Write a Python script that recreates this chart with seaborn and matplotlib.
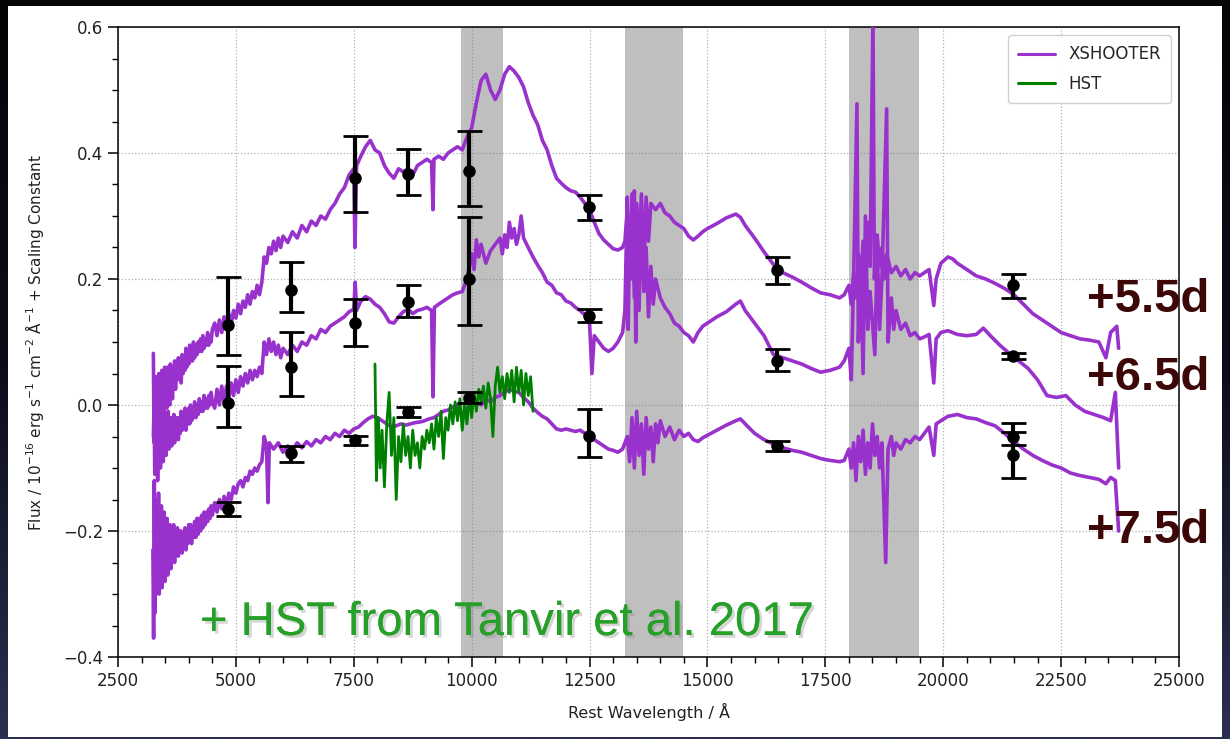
import numpy as np
import matplotlib
matplotlib.use("Agg")
import matplotlib.pyplot as plt
import matplotlib.patheffects as pe
from matplotlib.colors import LinearSegmentedColormap
from matplotlib.patches import Rectangle
from matplotlib.ticker import MultipleLocator, FuncFormatter
import seaborn as sns

# ---------------- X-shooter spectra, three epochs (flux + scaling constant) ----------------
# noisy blue ends, sampled densely
wave_55_blue = [3250, 3265, 3280, 3295, 3310, 3325, 3340, 3355, 3370, 3385, 3400, 3415, 3430, 3445,
                3460, 3475, 3490, 3505, 3520, 3535, 3550, 3565, 3580, 3595, 3610, 3625, 3640, 3655,
                3670, 3685, 3700, 3720, 3740, 3760, 3780, 3800, 3820, 3840, 3860, 3880, 3900, 3920,
                3940, 3960, 3980, 4000, 4020, 4040, 4060, 4080, 4100, 4125, 4150, 4175, 4200, 4225,
                4250, 4275, 4300, 4325, 4350, 4375, 4400, 4425, 4450, 4475, 4500]
flux_55_blue = [0.082, -0.06, 0.02, -0.04, 0.045, -0.02, 0.03, -0.07, 0.05, 0.0, 0.04, -0.03, 0.055, 0.01,
                0.035, -0.02, 0.06, 0.02, 0.045, -0.005, 0.06, 0.015, 0.04, 0.0, 0.065, 0.03, 0.05, 0.01,
                0.06, 0.035, 0.07, 0.025, 0.06, 0.04, 0.075, 0.045, 0.065, 0.035, 0.08, 0.05, 0.07, 0.055,
                0.09, 0.06, 0.08, 0.065, 0.095, 0.07, 0.085, 0.07, 0.10, 0.075, 0.095, 0.08, 0.10, 0.085,
                0.105, 0.085, 0.11, 0.09, 0.105, 0.095, 0.115, 0.095, 0.11, 0.10, 0.12]
wave_55_red = [4550, 4600, 4650, 4700, 4750, 4800, 4850, 4900, 4950, 5000, 5050, 5100,
               5150, 5200, 5250, 5300, 5350, 5400, 5450, 5500, 5550, 5600, 5650, 5700, 5750, 5800,
               5850, 5900, 5950, 6000, 6100, 6200, 6300, 6400, 6500, 6600, 6700, 6800, 6900, 7000,
               7100, 7200, 7300, 7400, 7500, 7525, 7560, 7650, 7750, 7850, 7950, 8050, 8150, 8250,
               8350, 8450, 8550, 8650, 8750, 8850, 8950, 9050, 9150, 9180, 9200, 9300, 9400, 9500,
               9600, 9700, 9800, 9900, 10000, 10100, 10200, 10300, 10400, 10500, 10600, 10700, 10800,
               10900, 11000, 11100, 11200, 11300, 11400, 11500, 11600, 11700, 11800, 11900, 12000,
               12100, 12200, 12300, 12400, 12500, 12600, 12700, 12800, 12900, 13000, 13100, 13200,
               13250, 13300, 13350, 13400, 13450, 13500, 13550, 13600, 13650, 13700, 13750, 13800,
               13900, 14000, 14100, 14200, 14300, 14400, 14500, 14600, 14700, 14800, 14900, 15000,
               15200, 15400, 15600, 15700, 15800, 16000, 16200, 16400, 16600, 16800, 17000, 17200,
               17400, 17600, 17800, 17900, 18000, 18050, 18100, 18150, 18200, 18250, 18300, 18350,
               18400, 18450, 18510, 18540, 18600, 18650, 18700, 18750, 18800, 18900, 19000, 19100,
               19200, 19300, 19400, 19500, 19600, 19700, 19800, 19850, 19950, 20100, 20200, 20300,
               20500, 20700, 20900, 21100, 21300, 21500, 21700, 21900, 22100, 22300, 22500, 22700,
               22900, 23100, 23300, 23450, 23550, 23680, 23720]
flux_55_red = [0.13, 0.11, 0.135, 0.115, 0.14, 0.12, 0.145, 0.128, 0.15, 0.138, 0.16, 0.145,
               0.165, 0.155, 0.175, 0.16, 0.18, 0.17, 0.19, 0.175, 0.195, 0.235, 0.225, 0.25, 0.24, 0.26,
               0.245, 0.265, 0.25, 0.268, 0.258, 0.275, 0.265, 0.285, 0.275, 0.292, 0.285, 0.30, 0.295, 0.31,
               0.32, 0.335, 0.345, 0.365, 0.375, 0.25, 0.38, 0.395, 0.41, 0.42, 0.405, 0.40, 0.38, 0.368,
               0.36, 0.375, 0.37, 0.375, 0.365, 0.38, 0.385, 0.39, 0.385, 0.31, 0.39, 0.395, 0.39, 0.40,
               0.405, 0.41, 0.405, 0.425, 0.44, 0.48, 0.515, 0.525, 0.50, 0.485, 0.50, 0.525, 0.537,
               0.53, 0.52, 0.505, 0.48, 0.46, 0.445, 0.42, 0.405, 0.38, 0.36, 0.352, 0.345,
               0.34, 0.338, 0.33, 0.32, 0.31, 0.29, 0.272, 0.262, 0.255, 0.248, 0.246, 0.25,
               0.26, 0.31, 0.22, 0.335, 0.17, 0.32, 0.24, 0.335, 0.20, 0.33, 0.26, 0.32,
               0.31, 0.32, 0.305, 0.30, 0.29, 0.285, 0.28, 0.268, 0.262, 0.268, 0.275, 0.28,
               0.288, 0.297, 0.303, 0.298, 0.285, 0.265, 0.243, 0.223, 0.21, 0.203, 0.195, 0.186,
               0.178, 0.175, 0.17, 0.175, 0.19, 0.16, 0.21, 0.17, 0.24, 0.19, 0.26, 0.20,
               0.29, 0.22, 0.62, 0.20, 0.27, 0.22, 0.25, 0.20, 0.24, 0.21, 0.22, 0.205,
               0.215, 0.20, 0.21, 0.205, 0.21, 0.215, 0.158, 0.20, 0.225, 0.235, 0.232, 0.225,
               0.215, 0.205, 0.20, 0.193, 0.185, 0.175, 0.16, 0.145, 0.135, 0.125, 0.115, 0.11,
               0.105, 0.103, 0.10, 0.075, 0.115, 0.125, 0.09]

wave_65_blue = [3250, 3265, 3280, 3295, 3310, 3325, 3340, 3355, 3370, 3385, 3400, 3415, 3430, 3445,
                3460, 3475, 3490, 3505, 3520, 3535, 3550, 3565, 3580, 3595, 3610, 3625, 3640, 3655,
                3670, 3685, 3700, 3720, 3740, 3760, 3780, 3800, 3820, 3840, 3860, 3880, 3900, 3920,
                3940, 3960, 3980, 4000, 4020, 4040, 4060, 4080, 4100, 4125, 4150, 4175, 4200, 4225,
                4250, 4275, 4300, 4325, 4350, 4375, 4400, 4425, 4450, 4475, 4500]
flux_65_blue = [-0.05, 0.0, -0.11, -0.03, -0.09, -0.01, -0.12, -0.04, -0.08, -0.02, -0.10, -0.03, -0.07, -0.015,
                -0.09, -0.04, -0.06, -0.02, -0.08, -0.03, -0.065, -0.01, -0.07, -0.035, -0.06, -0.02, -0.065, -0.03,
                -0.055, -0.015, -0.06, -0.025, -0.05, -0.02, -0.055, -0.02, -0.045, -0.01, -0.04, -0.02, -0.035, -0.005,
                -0.04, -0.01, -0.03, -0.005, -0.03, 0.0, -0.025, -0.005, -0.02, 0.005, -0.02, 0.0, -0.015, 0.01,
                -0.01, 0.005, -0.01, 0.015, -0.005, 0.01, -0.005, 0.015, 0.0, 0.02, 0.005]
wave_65_red = [4550, 4600, 4650, 4700, 4750, 4800, 4850, 4900, 4950, 5000, 5050, 5100,
               5150, 5200, 5250, 5300, 5350, 5400, 5450, 5500, 5550, 5600, 5650, 5700, 5750, 5800,
               5850, 5900, 5950, 6000, 6100, 6200, 6300, 6400, 6500, 6600, 6700, 6800, 6900, 7000,
               7100, 7200, 7300, 7400, 7500, 7530, 7560, 7650, 7750, 7850, 7950, 8050, 8150, 8250,
               8350, 8450, 8550, 8650, 8750, 8850, 8950, 9050, 9150, 9180, 9210, 9300, 9400, 9500,
               9600, 9700, 9800, 9900, 10000, 10050, 10100, 10150, 10200, 10300, 10400, 10500, 10600,
               10650, 10700, 10750, 10800, 10850, 10900, 10950, 11000, 11050, 11100, 11200, 11300,
               11400, 11500, 11600, 11700, 11800, 11900, 12000, 12100, 12200, 12300, 12400, 12500,
               12550, 12600, 12700, 12800, 12900, 13000, 13100, 13200, 13250, 13300, 13320, 13350,
               13400, 13450, 13480, 13500, 13550, 13600, 13650, 13700, 13750, 13800, 13850, 13900,
               14000, 14100, 14200, 14300, 14400, 14500, 14600, 14700, 14800, 14900, 15000, 15200,
               15400, 15600, 15700, 15800, 15900, 16000, 16200, 16400, 16600, 16800, 17000, 17200,
               17400, 17600, 17800, 17900, 18000, 18050, 18100, 18170, 18200, 18250, 18300, 18350,
               18400, 18450, 18550, 18600, 18650, 18700, 18800, 18830, 18900, 18950, 19000, 19100,
               19200, 19300, 19400, 19500, 19600, 19700, 19800, 19850, 19950, 20100, 20300, 20500,
               20700, 20850, 21000, 21200, 21400, 21600, 21800, 22000, 22200, 22400, 22600, 22800,
               23000, 23200, 23400, 23550, 23650, 23720]
flux_65_red = [-0.005, 0.025, 0.0, 0.03, 0.005, 0.03, 0.01, 0.035, 0.015, 0.04, 0.02, 0.045,
               0.03, 0.05, 0.035, 0.055, 0.04, 0.055, 0.045, 0.06, 0.05, 0.10, 0.08, 0.105, 0.085, 0.10,
               0.08, 0.095, 0.075, 0.09, 0.08, 0.095, 0.085, 0.10, 0.095, 0.11, 0.105, 0.12, 0.115, 0.125,
               0.13, 0.135, 0.14, 0.148, 0.152, 0.195, 0.15, 0.165, 0.172, 0.168, 0.16, 0.155, 0.145, 0.132,
               0.13, 0.14, 0.148, 0.152, 0.145, 0.15, 0.152, 0.155, 0.15, 0.013, 0.155, 0.16, 0.165, 0.17,
               0.175, 0.178, 0.18, 0.20, 0.24, 0.215, 0.262, 0.235, 0.255, 0.225, 0.245, 0.255, 0.265,
               0.24, 0.27, 0.25, 0.29, 0.265, 0.28, 0.255, 0.27, 0.30, 0.265, 0.25, 0.235,
               0.222, 0.21, 0.195, 0.19, 0.178, 0.175, 0.165, 0.162, 0.155, 0.15, 0.143, 0.13,
               0.05, 0.11, 0.10, 0.09, 0.085, 0.09, 0.10, 0.115, 0.15, 0.33, 0.12, 0.29,
               0.20, 0.34, 0.10, 0.30, 0.15, 0.32, 0.18, 0.25, 0.14, 0.22, 0.16, 0.20,
               0.17, 0.155, 0.145, 0.13, 0.125, 0.115, 0.11, 0.10, 0.115, 0.125, 0.13, 0.14,
               0.148, 0.16, 0.165, 0.15, 0.14, 0.13, 0.11, 0.08, 0.075, 0.07, 0.065, 0.058,
               0.052, 0.055, 0.06, 0.07, 0.09, 0.04, 0.20, 0.478, 0.10, 0.22, 0.05, 0.30,
               0.12, 0.18, 0.08, 0.25, 0.12, 0.20, 0.47, 0.10, 0.17, 0.12, 0.15, 0.12,
               0.13, 0.11, 0.115, 0.105, 0.108, 0.112, 0.035, 0.105, 0.115, 0.118, 0.112, 0.11,
               0.112, 0.122, 0.11, 0.095, 0.082, 0.07, 0.058, 0.04, 0.015, 0.012, 0.015, 0.0,
               -0.01, -0.015, -0.02, -0.025, 0.02, -0.10]

wave_75_blue = [3240, 3255, 3270, 3285, 3300, 3315, 3330, 3345, 3360, 3375, 3390, 3405, 3420, 3435,
                3450, 3465, 3480, 3495, 3510, 3525, 3540, 3555, 3570, 3585, 3600, 3620, 3640, 3660,
                3680, 3700, 3720, 3740, 3760, 3780, 3800, 3820, 3840, 3860, 3880, 3900, 3920, 3940,
                3960, 3980, 4000, 4020, 4040, 4060, 4080, 4100, 4125, 4150, 4175, 4200, 4225, 4250,
                4275, 4300, 4325, 4350, 4375, 4400, 4425, 4450, 4475, 4500]
flux_75_blue = [-0.23, -0.37, -0.12, -0.33, -0.15, -0.30, -0.17, -0.28, -0.14, -0.30, -0.18, -0.27, -0.16, -0.29,
                -0.19, -0.26, -0.17, -0.28, -0.20, -0.25, -0.18, -0.27, -0.20, -0.25, -0.19, -0.26, -0.20, -0.24,
                -0.19, -0.25, -0.20, -0.235, -0.195, -0.24, -0.20, -0.23, -0.20, -0.235, -0.205, -0.225, -0.195, -0.23,
                -0.20, -0.22, -0.19, -0.215, -0.19, -0.22, -0.195, -0.21, -0.185, -0.21, -0.18, -0.205, -0.18, -0.20,
                -0.175, -0.195, -0.17, -0.19, -0.17, -0.185, -0.165, -0.18, -0.16, -0.175]
wave_75_red = [4550, 4600, 4650, 4700, 4750, 4800, 4850, 4900, 4950, 5000, 5050,
               5100, 5150, 5200, 5250, 5300, 5350, 5400, 5450, 5500, 5550, 5600, 5650, 5680, 5710,
               5800, 5900, 6000, 6100, 6200, 6300, 6400, 6500, 6600, 6700, 6800, 6900, 7000, 7100,
               7200, 7300, 7400, 7500, 7600, 7700, 7800, 7900, 8000, 8100, 8200, 8300, 8400, 8500,
               8600, 8700, 8800, 8900, 9000, 9100, 9200, 9300, 9400, 9500, 9600, 9700, 9800, 9900,
               10000, 10100, 10200, 10300, 10400, 10500, 10600, 10700, 10800, 10900, 11000, 11100,
               11200, 11300, 11400, 11500, 11600, 11700, 11800, 11900, 12000, 12100, 12200, 12300,
               12400, 12500, 12600, 12700, 12800, 12900, 13000, 13100, 13200, 13300, 13350, 13400,
               13450, 13500, 13550, 13600, 13650, 13700, 13750, 13800, 13850, 13900, 13950, 14000,
               14100, 14200, 14300, 14400, 14500, 14600, 14700, 14800, 14900, 15000, 15200, 15400,
               15600, 15700, 15800, 16000, 16200, 16400, 16600, 16800, 17000, 17200, 17400, 17600,
               17800, 17900, 18000, 18050, 18100, 18150, 18200, 18250, 18300, 18350, 18400, 18450,
               18500, 18550, 18600, 18650, 18700, 18780, 18830, 18900, 18950, 19000, 19100, 19200,
               19300, 19400, 19500, 19600, 19700, 19800, 19850, 19950, 20100, 20300, 20500, 20700,
               20900, 21100, 21300, 21500, 21700, 21900, 22100, 22300, 22500, 22700, 22900, 23100,
               23300, 23450, 23550, 23650, 23720]
flux_75_red = [-0.155, -0.17, -0.15, -0.165, -0.145, -0.16, -0.14, -0.15, -0.13, -0.14, -0.125,
               -0.12, -0.13, -0.115, -0.12, -0.105, -0.11, -0.10, -0.105, -0.095, -0.09, -0.05, -0.065, -0.155, -0.06,
               -0.07, -0.06, -0.075, -0.065, -0.072, -0.06, -0.068, -0.058, -0.065, -0.055, -0.06, -0.05, -0.055, -0.045,
               -0.05, -0.04, -0.045, -0.038, -0.035, -0.028, -0.022, -0.018, -0.02, -0.025, -0.03, -0.035, -0.033, -0.03,
               -0.032, -0.03, -0.028, -0.027, -0.025, -0.022, -0.02, -0.015, -0.01, -0.008, -0.003, 0.0, -0.015, -0.005,
               0.0, 0.005, 0.0, 0.01, 0.005, 0.012, 0.015, 0.02, 0.025, 0.022, 0.02, 0.012,
               0.005, -0.005, -0.012, -0.018, -0.022, -0.03, -0.038, -0.04, -0.038, -0.04, -0.042, -0.04,
               -0.045, -0.05, -0.055, -0.06, -0.065, -0.07, -0.072, -0.075, -0.07, -0.05, -0.09, -0.02,
               -0.10, -0.01, -0.08, -0.03, -0.11, -0.02, -0.07, -0.035, -0.09, -0.03, -0.06, -0.025,
               -0.05, -0.035, -0.055, -0.04, -0.05, -0.045, -0.055, -0.058, -0.052, -0.048, -0.04, -0.032,
               -0.025, -0.022, -0.03, -0.045, -0.055, -0.062, -0.068, -0.072, -0.075, -0.08, -0.085, -0.088,
               -0.09, -0.088, -0.07, -0.10, -0.06, -0.12, -0.05, -0.09, -0.04, -0.11, -0.06, -0.10,
               -0.03, -0.08, -0.05, -0.10, -0.06, -0.25, -0.07, -0.05, -0.08, -0.06, -0.07, -0.055,
               -0.06, -0.05, -0.055, -0.045, -0.035, -0.08, -0.03, -0.025, -0.018, -0.015, -0.02, -0.022,
               -0.028, -0.033, -0.045, -0.058, -0.07, -0.08, -0.088, -0.095, -0.10, -0.108, -0.112, -0.115,
               -0.118, -0.125, -0.115, -0.12, -0.20]

# ---------------- HST spectrum (Tanvir et al. 2017) ----------------
wave_hst = [7950, 7980, 8020, 8060, 8100, 8150, 8200, 8250, 8300, 8350, 8400, 8450, 8500, 8550,
            8600, 8650, 8700, 8750, 8800, 8850, 8900, 8950, 9000, 9050, 9100, 9150, 9200, 9250,
            9300, 9350, 9400, 9450, 9500, 9550, 9600, 9650, 9700, 9750, 9800, 9850, 9900, 9950,
            10000, 10050, 10100, 10150, 10200, 10250, 10300, 10350, 10400, 10450, 10500, 10550,
            10600, 10650, 10700, 10750, 10800, 10850, 10900, 10950, 11000, 11050, 11100, 11150,
            11200, 11250, 11300]
flux_hst = [0.065, -0.12, -0.02, -0.10, -0.04, -0.13, -0.03, 0.02, -0.08, -0.02, -0.15, -0.05, -0.09, -0.03,
            -0.08, -0.05, -0.10, -0.04, -0.08, -0.06, -0.10, -0.05, -0.07, -0.04, -0.06, -0.03, -0.07, -0.02,
            -0.05, -0.01, -0.085, -0.02, -0.04, 0.0, -0.03, 0.005, -0.025, 0.01, -0.04, 0.0, -0.03, 0.015,
            -0.02, 0.02, -0.01, 0.025, 0.005, 0.03, -0.005, 0.035, 0.01, -0.05, 0.03, 0.06,
            0.02, 0.045, 0.01, 0.05, 0.02, 0.055, 0.005, 0.06, 0.02, 0.055, 0.0, 0.05,
            0.015, 0.045, -0.01]

# ---------------- photometry (asymmetric uncertainties: lower / upper bounds) ----------------
phot_wave = [4830, 6170, 7525, 8650, 9945, 12490, 16475, 21480]
phot_55 = [0.127, 0.183, 0.360, 0.367, 0.371, 0.314, 0.214, 0.190]
phot_55_lo = [0.079, 0.148, 0.306, 0.333, 0.316, 0.294, 0.192, 0.170]
phot_55_hi = [0.203, 0.227, 0.427, 0.406, 0.435, 0.333, 0.235, 0.208]
phot_65 = [0.003, 0.060, 0.130, 0.163, 0.200, 0.141, 0.070, 0.078]
phot_65_lo = [-0.035, 0.014, 0.094, 0.140, 0.127, 0.132, 0.054, 0.073]
phot_65_hi = [0.062, 0.116, 0.168, 0.190, 0.298, 0.152, 0.089, 0.083]
phot_75 = [-0.165, -0.076, -0.056, -0.011, 0.011, -0.049, -0.065, -0.051]
phot_75_lo = [-0.176, -0.090, -0.063, -0.019, 0.003, -0.083, -0.073, -0.064]
phot_75_hi = [-0.154, -0.065, -0.049, -0.003, 0.021, -0.006, -0.057, -0.029]
extra_wave = [21480]
extra_75 = [-0.079]
extra_75_lo = [-0.116]
extra_75_hi = [-0.043]

# telluric windows
telluric = [(9780, 10670), (13250, 14480), (18000, 19480)]

epoch_labels = ["+5.5d", "+6.5d", "+7.5d"]
epoch_label_y = [0.5778, 0.4723, 0.2652]

PURPLE = "#9932CC"
GREEN = "#008000"

wave_55 = wave_55_blue + wave_55_red
flux_55 = flux_55_blue + flux_55_red
wave_65 = wave_65_blue + wave_65_red
flux_65 = flux_65_blue + flux_65_red
wave_75 = wave_75_blue + wave_75_red
flux_75 = flux_75_blue + flux_75_red

sns.set_theme(style="ticks")
plt.rcParams["font.family"] = ["DejaVu Sans"]
plt.rcParams["mathtext.default"] = "regular"

fig = plt.figure(figsize=(12.3, 7.39), dpi=100)

# slide-style dark backdrop with a white panel
bg = fig.add_axes([0, 0, 1, 1], zorder=-10)
grad = np.linspace(0, 1, 256).reshape(-1, 1)
cmap_bg = LinearSegmentedColormap.from_list("bg", ["#050508", "#0c0d1a", "#2c2f50"])
bg.imshow(grad, aspect="auto", cmap=cmap_bg, extent=[0, 1, 0, 1], origin="upper")
bg.set_axis_off()
fig.patches.append(Rectangle((8 / 1230, 2 / 739), 1214 / 1230, 731 / 739,
                             transform=fig.transFigure, facecolor="white",
                             edgecolor="none", zorder=-5))

ax = fig.add_axes([118 / 1230, 1 - 657 / 739, 1061 / 1230, 630 / 739])
ax.set_facecolor("white")

for lo, hi in telluric:
    ax.axvspan(lo, hi, color="grey", alpha=0.5, lw=0, zorder=1)

LW = 2.6
sns.lineplot(x=wave_55, y=flux_55, ax=ax, color=PURPLE, lw=LW, label="XSHOOTER",
             estimator=None, sort=False, zorder=3)
sns.lineplot(x=wave_65, y=flux_65, ax=ax, color=PURPLE, lw=LW, label="_nolegend_",
             estimator=None, sort=False, zorder=3)
sns.lineplot(x=wave_75, y=flux_75, ax=ax, color=PURPLE, lw=LW, label="_nolegend_",
             estimator=None, sort=False, zorder=3)
sns.lineplot(x=wave_hst, y=flux_hst, ax=ax, color=GREEN, lw=2.0, label="HST",
             estimator=None, sort=False, zorder=4)


def draw_phot(w, v, lo, hi):
    v = np.asarray(v)
    yerr = [v - np.asarray(lo), np.asarray(hi) - v]
    ax.errorbar(w, v, yerr=yerr, fmt="o", color="black", ms=8, elinewidth=3,
                capsize=9, capthick=2, zorder=5)


draw_phot(phot_wave, phot_55, phot_55_lo, phot_55_hi)
draw_phot(phot_wave, phot_65, phot_65_lo, phot_65_hi)
draw_phot(phot_wave, phot_75, phot_75_lo, phot_75_hi)
draw_phot(extra_wave, extra_75, extra_75_lo, extra_75_hi)

ax.set_xlim(2500, 25000)
ax.set_ylim(-0.4, 0.6)
ax.xaxis.set_major_locator(MultipleLocator(2500))
ax.xaxis.set_minor_locator(MultipleLocator(500))
ax.yaxis.set_major_locator(MultipleLocator(0.2))
ax.yaxis.set_minor_locator(MultipleLocator(0.05))
ax.yaxis.set_major_formatter(FuncFormatter(lambda v, p: f"{v:.1f}".replace("-", "\u2212")))
ax.grid(True, which="major", ls=":", color="#b0b0b0", lw=0.9, zorder=0)
ax.tick_params(which="major", direction="out", length=7, width=1.1, labelsize=12,
               colors="black", labelcolor="#222222")
ax.tick_params(which="minor", direction="out", length=4, width=1.0, colors="black")
for s in ax.spines.values():
    s.set_color("black")
    s.set_linewidth(1.1)

ax.set_xlabel("Rest Wavelength / \u00c5", fontsize=11.5, color="#222222", labelpad=10)
ax.set_ylabel("Flux / 10$^{-16}$ erg s$^{-1}$ cm$^{-2}$ \u00c5$^{-1}$ + Scaling Constant",
              fontsize=11, color="#222222", labelpad=12)

leg = ax.legend(loc="upper right", fontsize=12, frameon=True, framealpha=0.9,
                edgecolor="#cccccc", handlelength=2.2, borderpad=0.6, labelspacing=0.7)
for line in leg.get_lines():
    line.set_linewidth(2.2)

for lab, yy in zip(epoch_labels, epoch_label_y):
    fig.text(1087 / 1230, yy, lab, fontsize=34, fontweight="bold",
             family=["Liberation Sans", "DejaVu Sans"], color="#3d0707",
             ha="left", va="baseline", zorder=10)

fig.text(200 / 1230, 1 - 635 / 739, "+ HST from Tanvir et al. 2017", fontsize=34,
         family=["Liberation Sans", "DejaVu Sans"], color="#27a02a",
         ha="left", va="baseline", zorder=10,
         path_effects=[pe.withSimplePatchShadow(offset=(2, -2), shadow_rgbFace="#888888",
                                                alpha=0.35), pe.Normal()])

fig.savefig("out.png", dpi=100)
